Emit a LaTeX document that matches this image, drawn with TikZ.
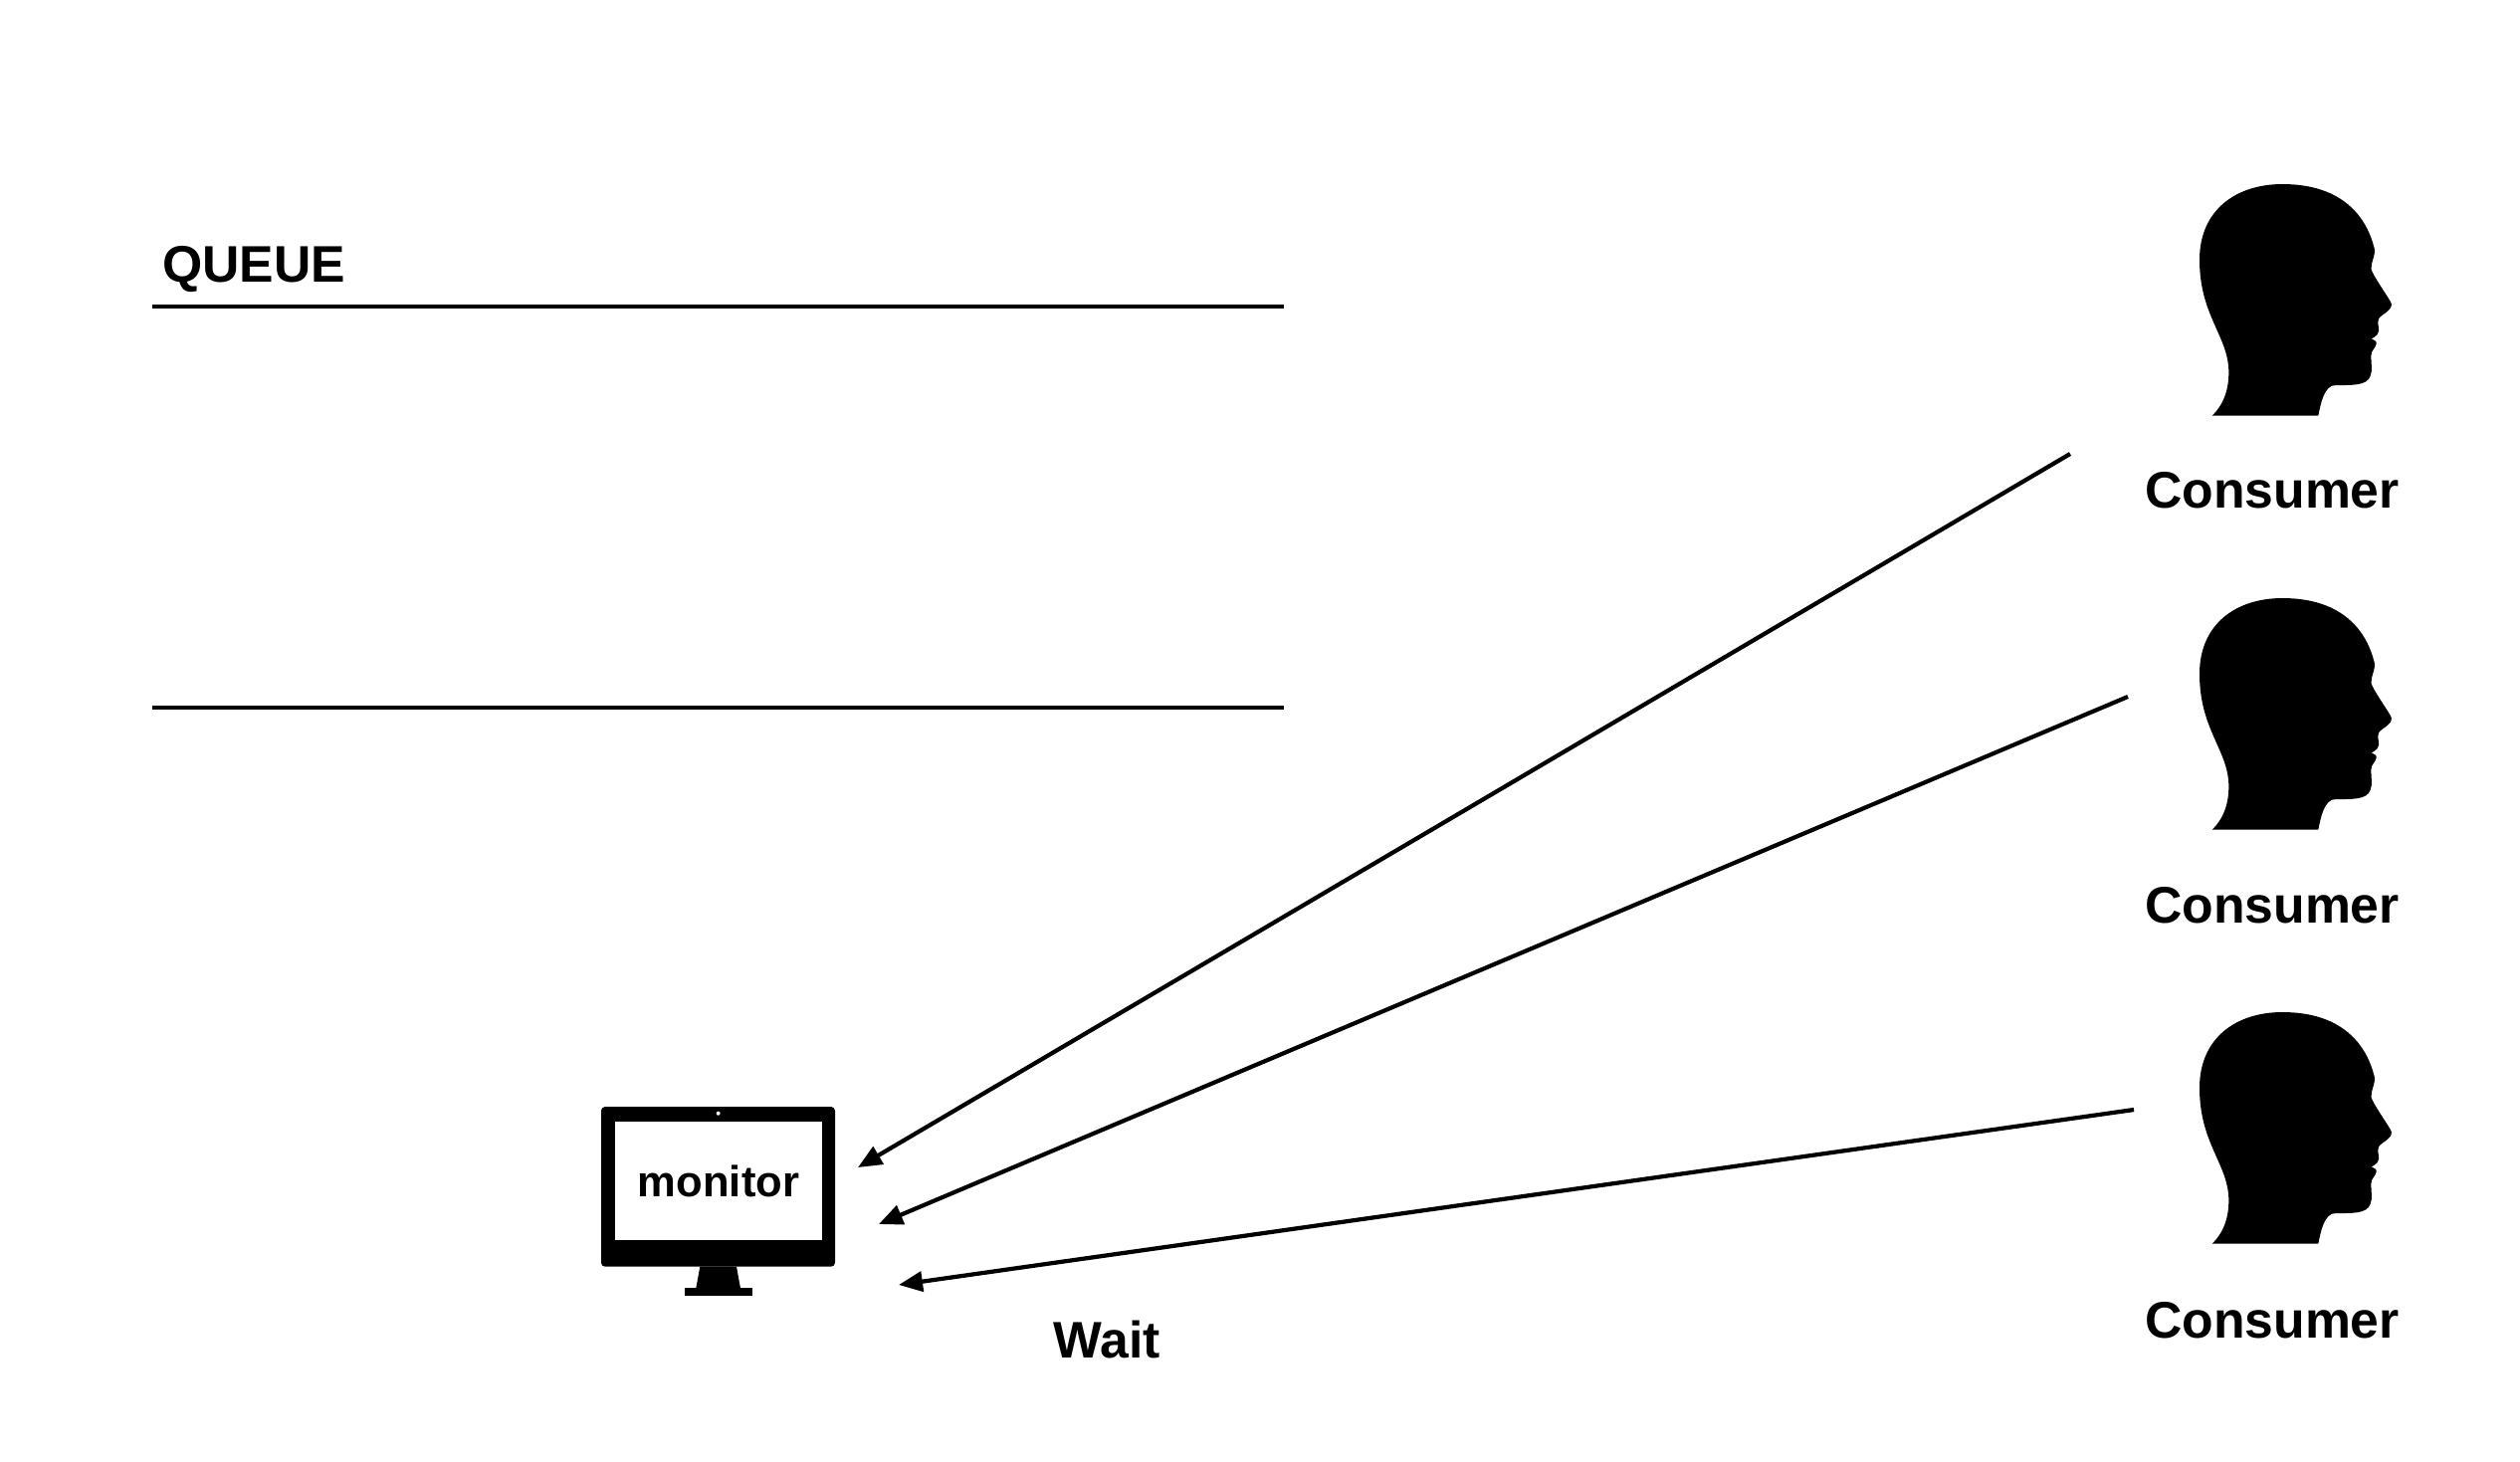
\documentclass[tikz,border=0pt]{standalone}
\usepackage{fontspec}
\setmainfont{Liberation Sans}
\usetikzlibrary{arrows.meta}
\tikzset{
	title/.style={font=\fontsize{14.7}{17}\selectfont\bfseries, inner sep=0pt},
	small title/.style={font=\fontsize{12.4}{15}\selectfont\bfseries, inner sep=0pt},
	wire/.style={line width=1.2pt},
	call/.style={line width=1.2pt, -{Triangle[length=.24cm,width=.2cm]}},
	head/.pic={
		\fill[black,scale=1/3] (218,770) .. controls (250,740) and (268,695) .. (268,640)
			.. controls (268,530) and (180,470) .. (180,300)
			.. controls (180,150) and (290,72) .. (430,72)
			.. controls (590,72) and (680,150) .. (708,270)
			.. controls (708,295) and (695,310) .. (698,330)
			.. controls (705,350) and (740,400) .. (755,425)
			.. controls (772,450) and (725,465) .. (720,478)
			.. controls (712,495) and (728,510) .. (716,525)
			.. controls (712,532) and (702,535) .. (698,538)
			.. controls (705,542) and (716,545) .. (713,554)
			.. controls (710,568) and (697,572) .. (697,590)
			.. controls (697,610) and (702,635) .. (695,650)
			.. controls (685,680) and (640,678) .. (590,678)
			.. controls (555,678) and (545,735) .. (538,770) -- cycle;
	}
}
\begin{document}
\begin{tikzpicture}[x=.01cm,y=-.01cm]
	\useasboundingbox (0,0) rectangle (2532,1468);

	% queue
	\node[title] (queue) at (255,271) {QUEUE};
	\coordinate (q1) at (153,308);
	\coordinate (q2) at (1290,308);
	\coordinate (q3) at (153,711);
	\coordinate (q4) at (1290,711);
	\draw[wire] (q1) -- (q2);
	\draw[wire] (q3) -- (q4);

	% monitor
	\begin{scope}[shift={(580,1091)},scale=1/3]
		\fill[black,rounded corners=.04cm] (72,63) rectangle (777,545);
		\fill[white] (114,108) rectangle (738,465);
		\fill[white] (425,83) circle (6);
		\fill[black] (370,545) -- (480,545) -- (492,610) -- (358,610) -- cycle;
		\fill[black] (324,608) rectangle (528,633);
	\end{scope}
	\node[title,small title] (monitor) at (722,1187) {monitor};

	% consumers
	\pic at (2150,161) {head};
	\node[title] (c1) at (2283,493) {Consumer};
	\pic at (2150,577) {head};
	\node[title] (c2) at (2283,910) {Consumer};
	\pic at (2150,993) {head};
	\node[title] (c3) at (2283,1327) {Consumer};

	\node[title] (wait) at (1112,1346) {Wait};

	\coordinate (a1) at (2080,456);
	\coordinate (b1) at (862,1173);
	\coordinate (a2) at (2138,700);
	\coordinate (b2) at (883,1230);
	\coordinate (a3) at (2144,1115);
	\coordinate (b3) at (903,1291);
	\draw[call] (a1) -- (b1);
	\draw[call] (a2) -- (b2);
	\draw[call] (a3) -- (b3);
\end{tikzpicture}
\end{document}
